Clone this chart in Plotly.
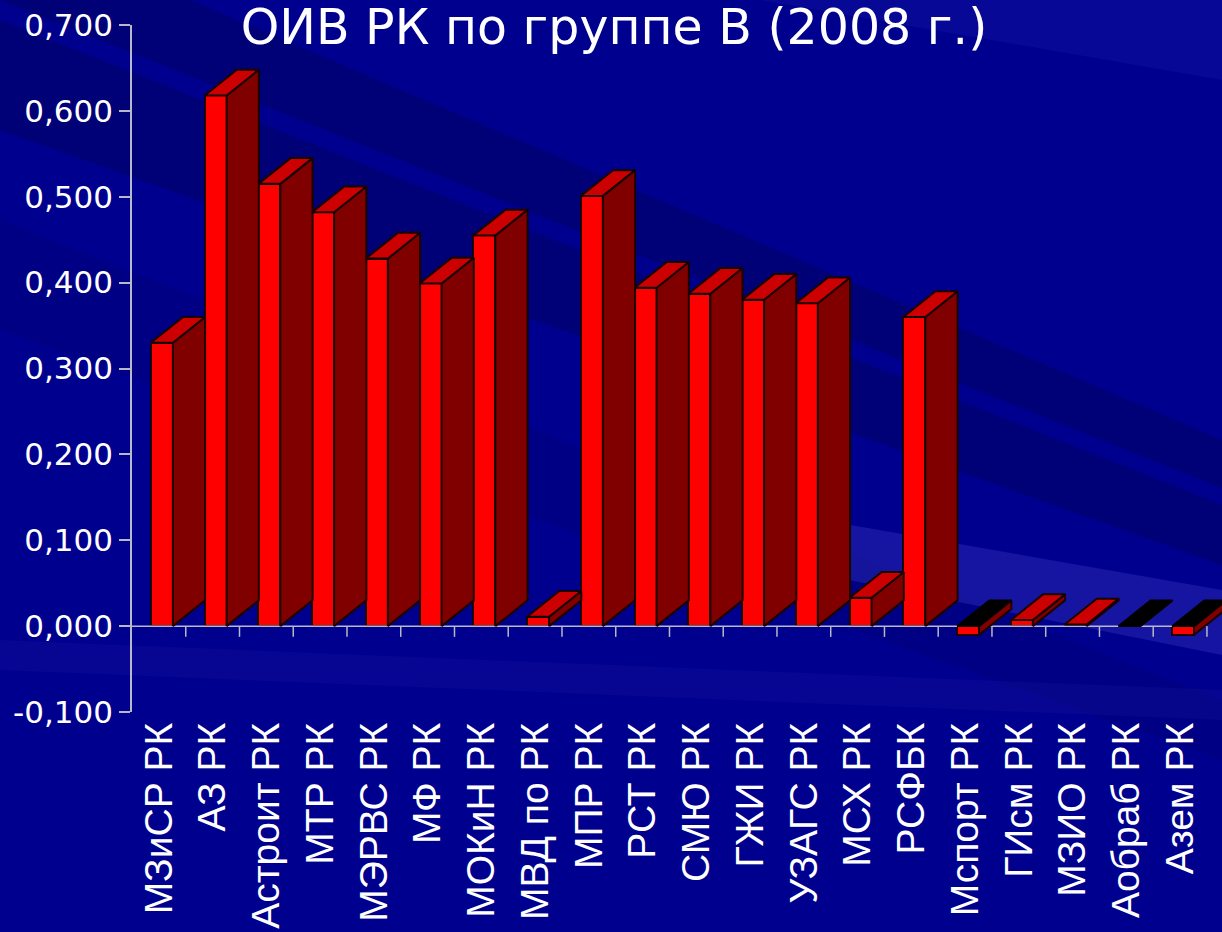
import plotly.graph_objects as go

# ---- data ----
categories = ["МЗиСР РК", "АЗ РК", "Астроит РК", "МТР РК", "МЭРВС РК", "МФ РК",
              "МОКиН РК", "МВД по РК", "МПР РК", "РСТ РК", "СМЮ РК", "ГЖИ РК",
              "УЗАГС РК", "МСХ РК", "РСФБК", "Мспорт РК", "ГИсм РК", "МЗИО РК",
              "Аобраб РК", "Азем РК"]
values = [0.330, 0.618, 0.515, 0.482, 0.428, 0.399, 0.455, 0.011, 0.501, 0.394,
          0.387, 0.380, 0.376, 0.033, 0.360, -0.010, 0.007, 0.002, 0.000, -0.010]
y_ticks = [-0.1, 0.0, 0.1, 0.2, 0.3, 0.4, 0.5, 0.6, 0.7]
y_ticktext = [f"{v:.3f}".replace(".", ",") for v in y_ticks]
title_text = "ОИВ РК по группе В (2008 г.)"

# ---- figure geometry ----
W, H = 1222, 932
L, R, T, B = 132, 0, 25, 220
n = len(categories)
x_lo, x_hi = -0.5, n - 0.5 + 0.28
y_lo, y_hi = -0.1, 0.7

# 3D bar styling (in axis units)
off, bw = -0.15, 0.41          # front face offset and width
dx, dy = 0.60, 0.030           # depth projection
edge = "#1a0000"
front_col, side_col, top_col = "#ff0000", "#800000", "#cc0000"

fig = go.Figure()

# axis floor line with category tick marks at y = 0
tick_len = 0.0125
ax_x, ax_y = [-0.5 - 0.18, n - 0.5], [0, 0]
for k in range(1, n + 1):
    ax_x += [None, k - 0.5, k - 0.5]
    ax_y += [None, 0, -tick_len]
fig.add_trace(go.Scatter(x=ax_x, y=ax_y, mode="lines",
                         line=dict(color="#b8b8c8", width=1.5),
                         hoverinfo="skip", showlegend=False))

# front faces
fig.add_trace(go.Bar(x=list(range(n)), y=values, width=bw, offset=off,
                     marker=dict(color=front_col, line=dict(color=edge, width=2)),
                     hovertemplate="%{text}: %{y:.3f}<extra></extra>",
                     text=categories, textposition="none", showlegend=False))

# side and top faces
sx, sy, trx, tr_y, tbx, tby = [], [], [], [], [], []
for i, v in enumerate(values):
    x0 = i + off
    x1 = x0 + bw
    top = max(v, 0.0)
    bot = min(v, 0.0)
    sx += [x1, x1 + dx, x1 + dx, x1, x1, None]
    sy += [bot, bot + dy, top + dy, top, bot, None]
    px = [x0, x0 + dx, x1 + dx, x1, x0, None]
    py = [top, top + dy, top + dy, top, top, None]
    if v > 0:
        trx += px; tr_y += py
    else:
        tbx += px; tby += py

fig.add_trace(go.Scatter(x=sx, y=sy, mode="lines", fill="toself",
                         fillcolor=side_col, line=dict(color=edge, width=2),
                         hoverinfo="skip", showlegend=False))
fig.add_trace(go.Scatter(x=trx, y=tr_y, mode="lines", fill="toself",
                         fillcolor=top_col, line=dict(color=edge, width=2),
                         hoverinfo="skip", showlegend=False))
fig.add_trace(go.Scatter(x=tbx, y=tby, mode="lines", fill="toself",
                         fillcolor="#000000", line=dict(color="#000000", width=1.5),
                         hoverinfo="skip", showlegend=False))

# ---- background streaks (decorative, pixel -> paper coords) ----
PW, PH = W - L - R, H - T - B
def pp(px, py):
    return (px - L) / PW, (H - B - py) / PH

def band(points, color):
    pts = [pp(a, b) for a, b in points]
    path = "M " + " L ".join(f"{a:.4f},{b:.4f}" for a, b in pts) + " Z"
    return dict(type="path", xref="paper", yref="paper", path=path,
                fillcolor=color, line=dict(width=0), layer="below")

shapes = [
    band([(0, 0), (W, 0), (W, H), (0, H)], "#00008e"),
    band([(0, 20), (W, 505), (W, 565), (0, 130)], "rgba(0,0,60,0.28)"),
    band([(190, 0), (W, 440), (W, 488), (0, 0)], "rgba(0,0,60,0.28)"),
    band([(0, 220), (W, 700), (W, 760), (0, 330)], "rgba(0,0,60,0.10)"),
    band([(650, 490), (W, 590), (W, 655), (650, 540)], "rgba(70,70,210,0.30)"),
    band([(0, 640), (W, 690), (W, 720), (0, 670)], "rgba(60,60,200,0.10)"),
    band([(760, 0), (W, 0), (W, 80)], "rgba(30,30,180,0.25)"),
]

fig.update_layout(
    width=W, height=H,
    margin=dict(l=L, r=R, t=T, b=B, pad=0, autoexpand=False),
    paper_bgcolor="#00008e", plot_bgcolor="rgba(0,0,0,0)",
    bargap=0, showlegend=False,
    font=dict(family="DejaVu Sans, Arial, sans-serif", color="white"),
    shapes=shapes,
    title=dict(text=title_text, x=614 / W, xref="container", xanchor="center",
               y=1 - 27 / H, yref="container", yanchor="middle",
               font=dict(size=49, color="white", family="DejaVu Sans, Arial")),
    xaxis=dict(range=[x_lo, x_hi], tickvals=list(range(n)), ticktext=categories,
               tickangle=-90, showgrid=False, zeroline=False, showline=False,
               ticks="", ticklen=0, ticklabelstandoff=2,
               automargin=False,
               tickfont=dict(size=39, color="white",
                             family="Liberation Sans, Arial, sans-serif"),
               fixedrange=True),
    yaxis=dict(range=[y_lo, y_hi], tickvals=y_ticks, ticktext=y_ticktext,
               showgrid=False, zeroline=False, showline=True, automargin=False,
               linecolor="#b8b8c8", linewidth=1.5, ticks="outside", ticklen=11,
               tickcolor="#b8b8c8", tickwidth=1.5,
               tickfont=dict(size=31, color="white"), fixedrange=True),
)

fig.write_html("out.html",
               config={"displayModeBar": False},
               post_script="document.body.style.margin='0';"
                           "document.body.style.padding='0';"
                           "document.body.style.overflow='hidden';")
